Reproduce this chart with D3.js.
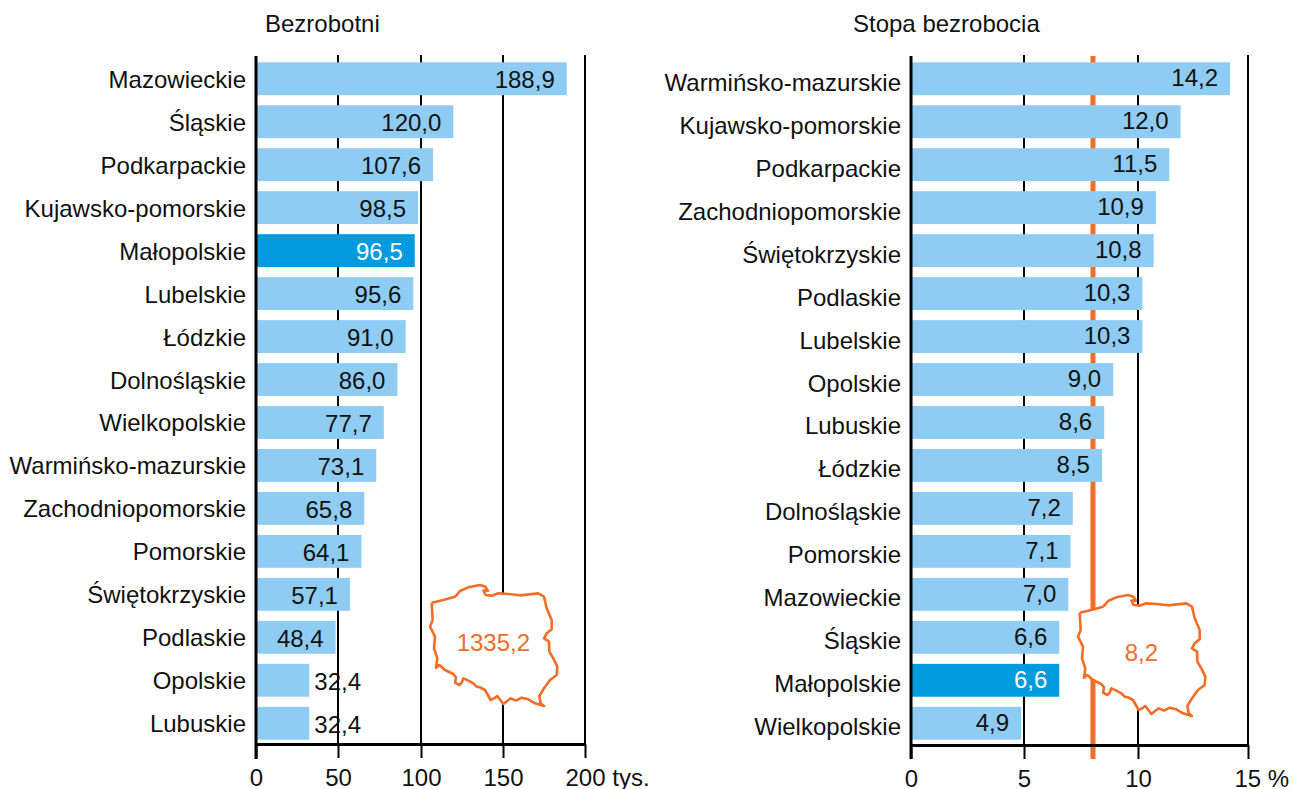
<!DOCTYPE html>
<html>
<head>
<meta charset="utf-8">
<script src="https://cdn.jsdelivr.net/npm/d3@7"></script>
<style>
  html, body { margin: 0; background: #fff; }
  text { font-family: "Liberation Sans", Arial, sans-serif; font-size: 24px; fill: #111; }
</style>
</head>
<body>
<svg id="chart" width="1292" height="789"></svg>
<script>
var leftNames = ["Mazowieckie","Śląskie","Podkarpackie","Kujawsko-pomorskie","Małopolskie","Lubelskie","Łódzkie","Dolnośląskie","Wielkopolskie","Warmińsko-mazurskie","Zachodniopomorskie","Pomorskie","Świętokrzyskie","Podlaskie","Opolskie","Lubuskie"]
var leftValues = [188.9,120.0,107.6,98.5,96.5,95.6,91.0,86.0,77.7,73.1,65.8,64.1,57.1,48.4,32.4,32.4]
var leftTicks = [0,50,100,150,200]

var rightNames = ["Warmińsko-mazurskie","Kujawsko-pomorskie","Podkarpackie","Zachodniopomorskie","Świętokrzyskie","Podlaskie","Lubelskie","Opolskie","Lubuskie","Łódzkie","Dolnośląskie","Pomorskie","Mazowieckie","Śląskie","Małopolskie","Wielkopolskie"]
var rightValues = [14.2,12.0,11.5,10.9,10.8,10.3,10.3,9.0,8.6,8.5,7.2,7.1,7.0,6.6,6.6,4.9]
var rightTicks = [0,5,10,15]

// outline of Poland, in its own local units
var outlineX = [35,70,105,113,120,145,180,196,204,190,197,215,235,265,300,355,372,380,395,395,380,372,387,388,400,412,410,390,370,358,362,372,345,325,305,288,272,250,232,222,212,195,180,170,160,145,130,125,118,105,108,100,75,58,48,52,42,45,30,38,35]
var outlineY = [98,90,80,72,63,52,45,50,62,62,75,77,70,72,76,70,80,115,150,178,190,205,215,245,265,290,315,330,358,378,400,408,400,388,383,392,385,402,378,385,390,360,352,350,340,332,325,338,345,338,322,312,300,285,293,265,235,200,170,150,98]

var highlight = "Małopolskie"
var orange = "#f26d26"
var svg = d3.select("#chart")

function panel(cfg) {
    var g = svg.append("g")
    var x = d3.scaleLinear().domain(cfg.domain).range([cfg.tickPos[0], cfg.tickPos[cfg.tickPos.length - 1]])
    // the printed ticks are not quite evenly spaced
    var xTick = d3.scaleLinear().domain(cfg.ticks).range(cfg.tickPos)
    var y = d3.scaleBand().domain(cfg.names).range([58, 744]).paddingInner(0.235).paddingOuter(0.1)

    // vertical lines sit behind the bars
    g.selectAll("line.grid")
       .data(cfg.ticks.slice(1))
       .enter().append("line")
       .attr("x1", function (d) { return xTick(d) })
       .attr("x2", function (d) { return xTick(d) })
       .attr("y1", 55)
       .attr("y2", cfg.axisY)
       .attr("stroke", "#000")
       .attr("stroke-width", 2)

    if (cfg.refLine) {
        g.append("line")
           .attr("x1", x(cfg.refLine)).attr("x2", x(cfg.refLine))
           .attr("y1", 56).attr("y2", 759)
           .attr("stroke", orange)
           .attr("stroke-width", 5)
    }

    var values = d3.zip(cfg.names, cfg.values)
    g.selectAll("rect")
       .data(values)
       .enter().append("rect")
       .attr("x", x(0) + 1)
       .attr("y", function (d) { return y(d[0]) })
       .attr("width", function (d) { return x(d[1]) - x(0) - 1 })
       .attr("height", y.bandwidth())
       .attr("fill", function (d) { return d[0] == highlight ? "#009bdf" : "#8eccf3" })

    // category labels
    g.selectAll("text.name")
       .data(values)
       .enter().append("text")
       .attr("x", x(0) - cfg.nameGap)
       .attr("y", function (d) { return y(d[0]) + y.bandwidth() / 2 + cfg.nameDy })
       .attr("text-anchor", "end")
       .text(function (d) { return d[0] })

    // value labels
    var fmt = function (v) { return v.toFixed(1).replace(".", ",") }
    g.selectAll("text.value")
       .data(values)
       .enter().append("text")
       .attr("x", function (d) { return d[1] < cfg.outside ? x(d[1]) + 5 : x(d[1]) - 12 })
       .attr("y", function (d) { return y(d[0]) + y.bandwidth() / 2 + cfg.valueDy })
       .attr("text-anchor", function (d) { return d[1] < cfg.outside ? "start" : "end" })
       .style("fill", function (d) { return d[0] == highlight ? "#fff" : "#111" })
       .text(function (d) { return fmt(d[1]) })

    // axes
    g.append("line")
       .attr("x1", x(0)).attr("x2", x(0))
       .attr("y1", 56).attr("y2", 759)
       .attr("stroke", "#000").attr("stroke-width", 3)

    var axis = d3.axisBottom(xTick).tickValues(cfg.ticks).tickSize(14).tickSizeOuter(0)
       .tickFormat(function (d, i) { return d + (i == cfg.ticks.length - 1 ? cfg.unit : "") })
    var ax = g.append("g").attr("transform", "translate(0," + cfg.axisY + ")").call(axis)
    ax.select(".domain").attr("stroke", "#000").attr("stroke-width", 3)
    ax.selectAll(".tick line").attr("stroke", "#000").attr("stroke-width", 2)
    ax.selectAll(".tick text")
       .attr("y", 25).attr("dy", "0.71em")
       .style("font-family", "'Liberation Sans', Arial, sans-serif")
       .style("font-size", "24px")
       .attr("fill", "#111")
    // keep the number centred on its tick, the unit hangs to the right
    ax.selectAll(".tick:last-of-type text")
       .attr("text-anchor", "start")
       .attr("x", cfg.lastTickShift)

    // title
    g.append("text")
       .attr("x", cfg.titleX).attr("y", 32)
       .text(cfg.title)

    // map with the total
    var mx = d3.scaleLinear().domain([0, 3]).range([cfg.mapX, cfg.mapX + 1])
    var my = d3.scaleLinear().domain([0, 3]).range([cfg.mapY, cfg.mapY + 1])
    var outline = d3.line().x(function (d) { return mx(d[0]) }).y(function (d) { return my(d[1]) })
    g.append("path")
       .attr("d", outline(d3.zip(outlineX, outlineY)))
       .attr("fill", "#fff")
       .attr("stroke", orange)
       .attr("stroke-width", 2.6)
       .attr("stroke-linejoin", "round")
    g.append("text")
       .attr("x", mx(220)).attr("y", my(242))
       .attr("text-anchor", "middle")
       .style("fill", orange)
       .text(cfg.total)
}

panel({
    names: leftNames, values: leftValues, ticks: leftTicks,
    domain: [0, 200], tickPos: [256, 338, 421, 503, 585], axisY: 744, nameGap: 10, nameDy: 9, valueDy: 9.5, outside: 40,
    unit: " tys.", lastTickShift: -20, title: "Bezrobotni", titleX: 265,
    mapX: 420, mapY: 570, total: "1335,2"
})
panel({
    names: rightNames, values: rightValues, ticks: rightTicks,
    domain: [0, 15], tickPos: [911, 1024, 1138, 1248], axisY: 745, nameGap: 10, nameDy: 12, valueDy: 7.5, outside: 0,
    unit: " %", lastTickShift: -14, title: "Stopa bezrobocia", titleX: 853,
    refLine: 8.1, mapX: 1068, mapY: 580, total: "8,2"
})
</script>
</body>
</html>
